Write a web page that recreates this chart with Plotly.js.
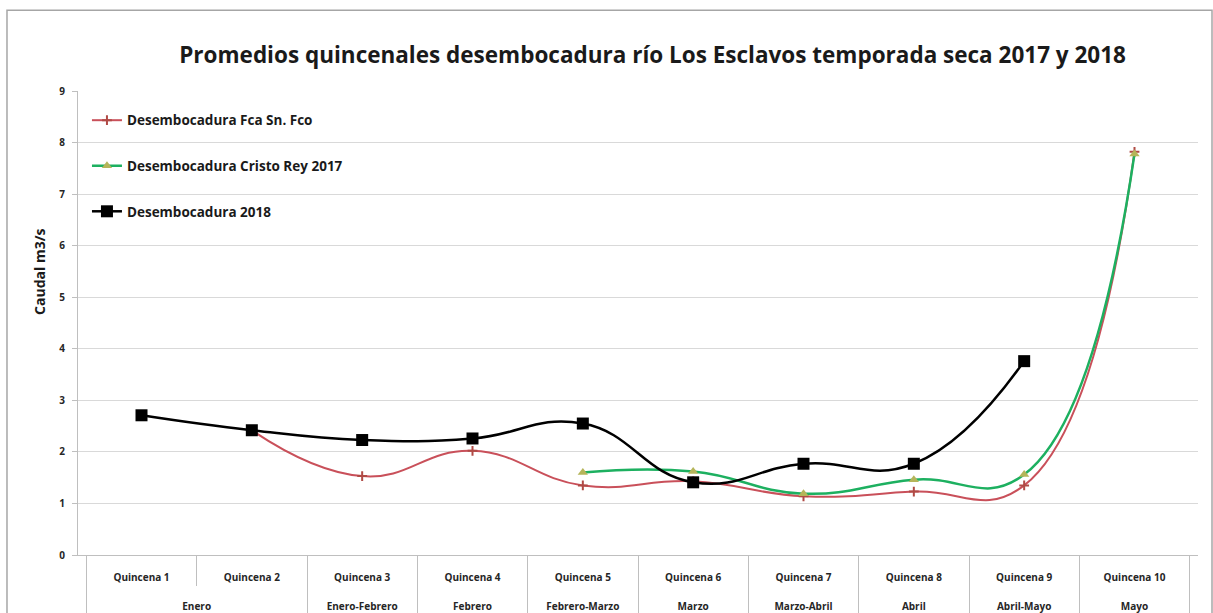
<!DOCTYPE html>
<html>
<head>
<meta charset="utf-8">
<script src="https://cdn.plot.ly/plotly-3.0.1.min.js"></script>
<style>
  html, body { margin: 0; padding: 0; background: #ffffff; }
  #chart { width: 1213px; height: 613px; }
</style>
</head>
<body>
<div id="chart"></div>
<script>
// ---- data ----
var months = ["Enero", "Enero", "Enero-Febrero", "Febrero", "Febrero-Marzo", "Marzo", "Marzo-Abril", "Abril", "Abril-Mayo", "Mayo"];
var quincenas = ["Quincena 1", "Quincena 2", "Quincena 3", "Quincena 4", "Quincena 5", "Quincena 6", "Quincena 7", "Quincena 8", "Quincena 9", "Quincena 10"];
var fcaSnFco = [null, 2.42, 1.53, 2.02, 1.35, 1.43, 1.14, 1.23, 1.35, 7.82];
var cristoRey2017 = [null, null, null, null, 1.60, 1.62, 1.19, 1.46, 1.56, 7.78];
var desemb2018 = [2.71, 2.42, 2.23, 2.26, 2.55, 1.41, 1.77, 1.77, 3.76, null];
var seriesNames = ["Desembocadura Fca Sn. Fco", "Desembocadura Cristo Rey 2017", "Desembocadura 2018"];
var yTicks = [0, 1, 2, 3, 4, 5, 6, 7, 8, 9];
var chartTitle = 'Promedios quincenales desembocadura río Los Esclavos temporada seca 2017 y 2018';
var yTitle = 'Caudal m3/s';

var FONT = '"Open Sans", Lato, sans-serif';
// leading line breaks only push the label rows lower, as in the original table-style axis
function padInner(s) { return '<br>' + s; }
function padOuter(s) { return '<br><br>' + s; }
var xcat = [months.map(padOuter), quincenas.map(padInner)];

var traces = [
  {
    x: xcat, y: fcaSnFco, name: seriesNames[0], type: 'scatter', mode: 'lines+markers',
    line: {color: '#c9505a', width: 2, shape: 'spline', smoothing: 1.3},
    marker: {symbol: 'cross-thin', size: 7, color: '#a8403c', line: {color: '#b04a45', width: 2}},
    legendgroup: 'a'
  },
  {
    x: xcat, y: cristoRey2017, name: seriesNames[1], type: 'scatter', mode: 'lines+markers',
    line: {color: '#1db060', width: 2.5, shape: 'spline', smoothing: 1.3},
    marker: {symbol: 'triangle-up', size: 9, color: '#b5b55a'},
    legendgroup: 'b'
  },
  {
    x: xcat, y: desemb2018, name: seriesNames[2], type: 'scatter', mode: 'lines+markers',
    line: {color: '#000000', width: 2.5, shape: 'spline', smoothing: 1.3},
    marker: {symbol: 'square', size: 12, color: '#000000'},
    legendgroup: 'c'
  }
];

var layout = {
  width: 1213, height: 613,
  margin: {l: 78, r: 15, t: 91, b: 58},
  paper_bgcolor: '#ffffff', plot_bgcolor: '#ffffff',
  font: {family: FONT, color: '#262626'},
  title: {
    text: chartTitle,
    font: {family: FONT, size: 22.5, weight: 700, color: '#1a1a1a'},
    x: 0.538, xanchor: 'center', y: 0.91, yanchor: 'middle'
  },
  showlegend: true,
  legend: {
    x: 0.008, y: 0.97, xanchor: 'left', yanchor: 'top',
    bgcolor: 'rgba(255,255,255,0)', borderwidth: 0,
    font: {family: FONT, size: 13.5, weight: 700, color: '#1a1a1a'},
    traceorder: 'grouped', tracegroupgap: 25, itemwidth: 30
  },
  xaxis: {
    type: 'multicategory',
    showgrid: false, zeroline: false,
    showline: true, linecolor: '#bfbfbf', linewidth: 1,
    ticks: 'outside', tickson: 'boundaries', ticklen: 30, tickcolor: '#bfbfbf',
    showdividers: true, dividercolor: '#bfbfbf', dividerwidth: 1,
    tickfont: {family: FONT, size: 10, weight: 700, color: '#262626'}
  },
  yaxis: {
    range: [0, 9], tickvals: yTicks, ticktext: yTicks.map(String),
    showgrid: true, gridcolor: '#d9d9d9', gridwidth: 1,
    zeroline: false, showline: true, linecolor: '#bfbfbf', linewidth: 1,
    ticks: 'outside', ticklen: 5, tickcolor: '#bfbfbf', ticklabelstandoff: 5,
    tickfont: {family: FONT, size: 10, weight: 700, color: '#262626'}
  },
  annotations: [
    {text: yTitle, xref: 'paper', yref: 'paper', x: -0.034, y: 0.61, textangle: -90,
     showarrow: false, xanchor: 'center', yanchor: 'middle',
     font: {family: FONT, size: 14, weight: 700, color: '#1a1a1a'}}
  ],
  shapes: [
    {type: 'rect', xref: 'paper', yref: 'paper', x0: -0.0634, x1: 1.0125, y0: -0.3, y1: 1.174,
     line: {color: '#a6a6a6', width: 1.5}, fillcolor: 'rgba(0,0,0,0)', layer: 'below'}
  ]
};

Plotly.newPlot('chart', traces, layout, {displayModeBar: false, staticPlot: true});
</script>
</body>
</html>
